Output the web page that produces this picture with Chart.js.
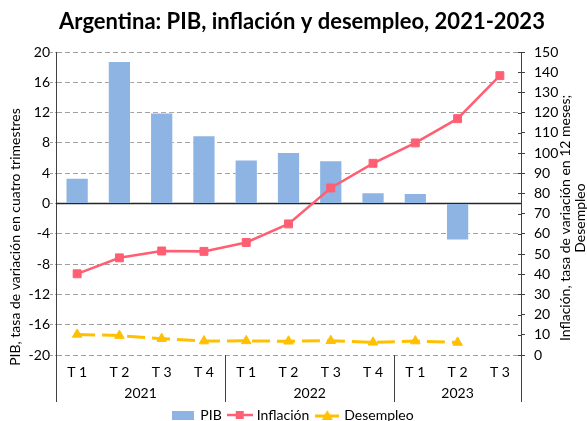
<!DOCTYPE html>
<html><head><meta charset="utf-8">
<script src="https://cdn.jsdelivr.net/npm/chart.js@4.4.1/dist/chart.umd.min.js"></script>
<style>html,body{margin:0;padding:0;background:#fff}</style>
</head><body>
<canvas id="c" width="587" height="421"></canvas>
<script>
const quarters = ['T 1','T 2','T 3','T 4','T 1','T 2','T 3','T 4','T 1','T 2','T 3'];
const years = ['2021','2022','2023'];
const yearSpans = [4,4,3];
const pib = [3.4,18.8,12.0,9.0,5.8,6.8,5.7,1.5,1.4,-4.9,null];
const inflacion = [40.2,48.1,51.5,51.3,55.7,64.9,82.7,94.9,105.0,117.0,138.3];
const desempleo = [10.2,9.6,8.1,6.9,7.0,6.8,7.1,6.3,6.9,6.2,null];
const seriesNames = ['PIB','Inflación','Desempleo'];
const titleText = 'Argentina: PIB, inflación y desempleo, 2021-2023';
const leftTitle = 'PIB, tasa de variación en cuatro trimestres';
const rightTitle = ['Inflación, tasa de variación en 12 meses;','Desempleo'];

const FONT = 'Lato, "Open Sans", sans-serif';
const C_PIB = '#8DB4E2', C_INF = '#FF5F73', C_DES = '#FFC000';

function mk(w,h,draw){const c=document.createElement('canvas');c.width=w;c.height=h;draw(c.getContext('2d'),w,h);return c;}
const iconPib = mk(22,9,(g,w,h)=>{g.fillStyle=C_PIB;g.fillRect(0,0,w,h);});
const iconInf = mk(26,10,(g,w,h)=>{g.strokeStyle=C_INF;g.lineWidth=2.5;g.beginPath();g.moveTo(0,h/2);g.lineTo(w,h/2);g.stroke();g.fillStyle=C_INF;g.fillRect(w/2-4,h/2-4,8,8);});
const iconDes = mk(24,12,(g,w,h)=>{g.strokeStyle=C_DES;g.lineWidth=3;g.beginPath();g.moveTo(0,h/2+1);g.lineTo(w,h/2+1);g.stroke();g.fillStyle=C_DES;g.beginPath();g.moveTo(w/2,1);g.lineTo(w/2+5.5,h-1);g.lineTo(w/2-5.5,h-1);g.closePath();g.fill();});

const extras = {
  id:'extras',
  beforeDatasetsDraw(chart){
    const {ctx, chartArea:a, scales:{y}} = chart;
    const y0 = y.getPixelForValue(0);
    ctx.save();ctx.strokeStyle='#262626';ctx.lineWidth=1.4;
    ctx.beginPath();ctx.moveTo(a.left,y0);ctx.lineTo(a.right,y0);ctx.stroke();ctx.restore();
  },
  afterDraw(chart){
    const {ctx, chartArea:a, scales:{x,y2}} = chart;
    ctx.save();
    ctx.fillStyle='#000';ctx.font='bold 22px '+FONT;ctx.textAlign='center';ctx.textBaseline='alphabetic';
    ctx.fillText(titleText,302,29);
    ctx.strokeStyle='#404040';ctx.lineWidth=1;
    y2.ticks.forEach(t=>{const py=Math.round(y2.getPixelForValue(t.value))+0.5;ctx.beginPath();ctx.moveTo(a.right-3,py);ctx.lineTo(a.right,py);ctx.stroke();});
    const half = (x.getPixelForValue(1)-x.getPixelForValue(0))/2;
    let idx=0; const edges=[a.left];
    yearSpans.forEach(n=>{idx+=n;edges.push(idx>=quarters.length?a.right:x.getPixelForValue(idx-1)+half);});
    ctx.strokeStyle='#404040';
    edges.forEach(ex=>{const px=Math.round(ex)+0.5;ctx.beginPath();ctx.moveTo(px,a.bottom);ctx.lineTo(px,a.bottom+47);ctx.stroke();});
    ctx.font='14px '+FONT;ctx.textAlign='center';ctx.textBaseline='middle';ctx.fillStyle='#000';
    years.forEach((yr,i)=>ctx.fillText(yr,(edges[i]+edges[i+1])/2,a.bottom+38));
    ctx.save();ctx.translate(15,237);ctx.rotate(-Math.PI/2);ctx.fillText(leftTitle,0,0);ctx.restore();
    ctx.save();ctx.translate(565,218);ctx.rotate(-Math.PI/2);ctx.fillText(rightTitle[0],0,0);ctx.restore();
    ctx.save();ctx.translate(580,218);ctx.rotate(-Math.PI/2);ctx.fillText(rightTitle[1],0,0);ctx.restore();
    ctx.restore();
  }
};

new Chart(document.getElementById('c'),{
  data:{
    labels:quarters,
    datasets:[
      {type:'bar',label:seriesNames[0],data:pib,yAxisID:'y',backgroundColor:C_PIB,borderColor:'rgba(255,255,255,0.45)',borderWidth:1,barPercentage:0.55,categoryPercentage:1,order:3},
      {type:'line',label:seriesNames[1],data:inflacion,yAxisID:'y2',borderColor:C_INF,backgroundColor:C_INF,borderWidth:2.5,pointStyle:'rect',pointRadius:5.6,pointBorderWidth:1,pointBackgroundColor:C_INF,tension:0,order:1},
      {type:'line',label:seriesNames[2],data:desempleo,yAxisID:'y2',borderColor:C_DES,backgroundColor:C_DES,borderWidth:3,borderDash:[18,7],pointStyle:'triangle',pointRadius:5.5,pointBorderWidth:1,pointBackgroundColor:C_DES,tension:0,order:2}
    ]
  },
  options:{
    responsive:false,animation:false,devicePixelRatio:1,
    layout:{padding:{top:52,left:0,right:0,bottom:-11}},
    plugins:{
      tooltip:{enabled:false},title:{display:false},
      legend:{position:'bottom',labels:{usePointStyle:true,pointStyleWidth:20,padding:8,color:'#000',font:{family:FONT,size:14},
        generateLabels:()=>[
          {text:seriesNames[0],pointStyle:iconPib,fillStyle:C_PIB,strokeStyle:C_PIB,lineWidth:0,datasetIndex:0,fontColor:'#000'},
          {text:seriesNames[1],pointStyle:iconInf,fillStyle:C_INF,strokeStyle:C_INF,lineWidth:0,datasetIndex:1,fontColor:'#000'},
          {text:seriesNames[2],pointStyle:iconDes,fillStyle:C_DES,strokeStyle:C_DES,lineWidth:0,datasetIndex:2,fontColor:'#000'}
        ]}}
    },
    scales:{
      x:{type:'category',offset:true,grid:{display:false,drawTicks:false},border:{display:false},
         ticks:{color:'#000',font:{family:FONT,size:14},padding:9,maxRotation:0,autoSkip:false},
         afterFit:s=>{s.height=45;}},
      y:{position:'left',min:-20,max:20,
         ticks:{stepSize:4,color:'#000',font:{family:FONT,size:14},padding:0},
         grid:{color:'#A0A0A0',lineWidth:1,tickLength:6,tickColor:'#A0A0A0',tickBorderDash:[3,2]},
         border:{display:true,color:'#404040',width:1,dash:[5,3]},
         afterFit:s=>{s.width=56;}},
      y2:{position:'right',min:0,max:150,
         ticks:{stepSize:10,color:'#000',font:{family:FONT,size:14},padding:9},
         grid:{drawOnChartArea:false,tickLength:4,tickColor:'#404040'},
         border:{display:true,color:'#404040',width:1},
         afterFit:s=>{s.width=66;}}
    }
  },
  plugins:[extras]
});
</script>
</body></html>
